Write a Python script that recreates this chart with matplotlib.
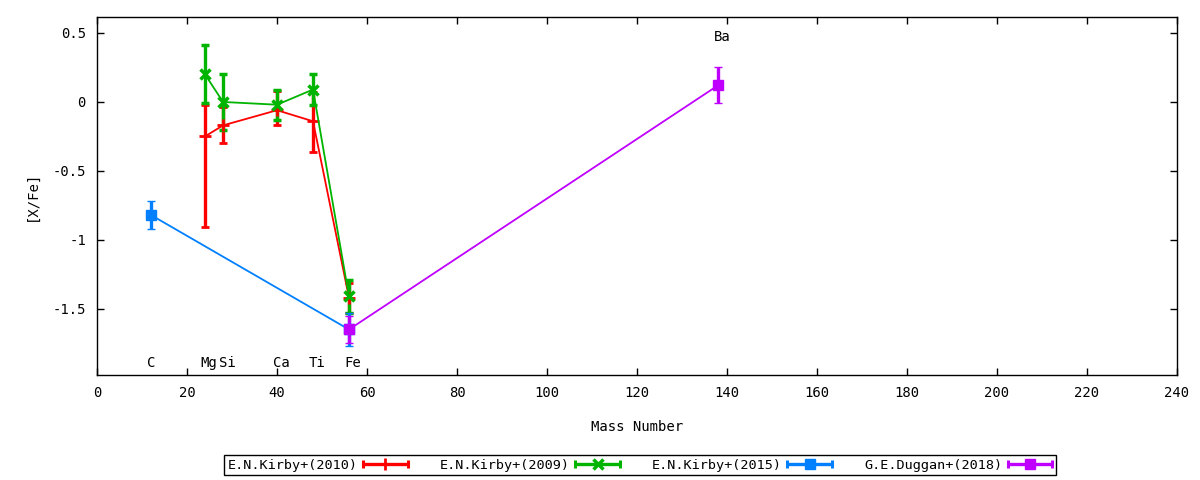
import matplotlib
matplotlib.use("Agg")
import matplotlib.pyplot as plt
from matplotlib.lines import Line2D
from matplotlib.legend_handler import HandlerBase
from matplotlib.container import ErrorbarContainer

plt.rcParams['font.family'] = ['DejaVu Sans Mono']
plt.rcParams['font.size'] = 10

# element labels
elements = ["C", "Mg", "Si", "Ca", "Ti", "Fe", "Ba"]
element_mass = [12, 24, 28, 40, 48, 56, 138]
element_label_y = [-1.89, -1.89, -1.89, -1.89, -1.89, -1.89, 0.47]

# E.N.Kirby+(2010)
k10_mass = [24, 28, 40, 48, 56]
k10_val = [-0.25, -0.17, -0.06, -0.14, -1.42]
k10_err_lo = [0.66, 0.13, 0.11, 0.22, 0.11]
k10_err_hi = [0.23, 0.13, 0.14, 0.21, 0.11]

# E.N.Kirby+(2009)
k09_mass = [24, 28, 40, 48, 56]
k09_val = [0.20, 0.00, -0.02, 0.09, -1.41]
k09_err = [0.21, 0.20, 0.11, 0.11, 0.12]

# E.N.Kirby+(2015)
k15_mass = [12, 56]
k15_val = [-0.82, -1.65]
k15_err = [0.10, 0.12]

# G.E.Duggan+(2018)
d18_mass = [56, 138]
d18_val = [-1.65, 0.12]
d18_err = [0.10, 0.13]


class ErrBarHandler(HandlerBase):
    # gnuplot-like key sample: horizontal bar with caps and a point in the middle
    def create_artists(self, legend, orig_handle, xdescent, ydescent,
                       width, height, fontsize, trans):
        src = orig_handle.lines[0]
        c = src.get_color()
        y = height / 2 - ydescent
        x0, x1 = -xdescent, width - xdescent
        bar = Line2D([x0, x1], [y, y], color=c, lw=2.4, solid_capstyle='butt')
        caps = Line2D([x0, x1], [y, y], ls='none', color=c, marker='|', ms=6, mew=2.2)
        pt = Line2D([(x0 + x1) / 2], [y], ls='none', color=c, marker=src.get_marker(),
                    ms=src.get_markersize(), mew=src.get_markeredgewidth())
        for a in (bar, caps, pt):
            a.set_transform(trans)
        return [bar, caps, pt]


fig = plt.figure(figsize=(12, 4.8), dpi=100)
ax = fig.add_axes([97 / 1200, 1 - 375 / 480, 1080 / 1200, 358 / 480])

eb_kw = dict(elinewidth=2.4, capsize=3, capthick=2.4, lw=1.3)
h1 = ax.errorbar(k10_mass, k10_val, yerr=[k10_err_lo, k10_err_hi], color='#ff0000',
                 marker='+', ms=8, mew=2, label='E.N.Kirby+(2010)', **eb_kw)
h2 = ax.errorbar(k09_mass, k09_val, yerr=k09_err, color='#00b400',
                 marker='x', ms=7, mew=2.5, label='E.N.Kirby+(2009)', **eb_kw)
h3 = ax.errorbar(k15_mass, k15_val, yerr=k15_err, color='#0080ff',
                 marker='s', ms=7, mew=1, label='E.N.Kirby+(2015)', **eb_kw)
h4 = ax.errorbar(d18_mass, d18_val, yerr=d18_err, color='#c000ff',
                 marker='s', ms=7, mew=1, label='G.E.Duggan+(2018)', **eb_kw)

for name, m, yy in zip(elements, element_mass, element_label_y):
    ax.text(m - 1, yy, name, ha='left', va='center', fontsize=10)

ax.set_xlim(0, 240)
ax.set_ylim(-1.98, 0.616)
ax.set_xticks(range(0, 241, 20))
ax.set_yticks([0.5, 0, -0.5, -1, -1.5])
ax.set_yticklabels(["0.5", "0", "-0.5", "-1", "-1.5"])
ax.tick_params(direction='in', length=5, width=1, top=True, right=True, pad=8)
for s in ax.spines.values():
    s.set_linewidth(1)

ax.set_xlabel("Mass Number", labelpad=14)
ax.set_ylabel("[X/Fe]", labelpad=10)

leg = fig.legend(handles=[h1, h2, h3, h4], loc='center', ncol=4,
                 bbox_to_anchor=(640 / 1200, 1 - 465 / 480), fontsize=9.7,
                 markerfirst=False, handlelength=3.3, handletextpad=0.4,
                 columnspacing=2.4, borderpad=0.25, borderaxespad=0, fancybox=False,
                 edgecolor='black', framealpha=1,
                 handler_map={ErrorbarContainer: ErrBarHandler()})
leg.get_frame().set_linewidth(1)

fig.savefig("out.png", dpi=100)
